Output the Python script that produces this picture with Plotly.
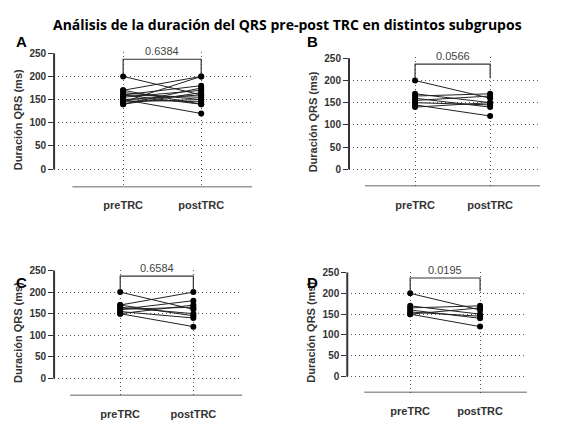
import plotly.graph_objects as go

categories = ["preTRC", "postTRC"]
panel_labels = ["A", "B", "C", "D"]
p_values = ["0.6384", "0.0566", "0.6584", "0.0195"]

pre_a = [200, 170, 165, 160, 160, 155, 150, 150, 145, 140, 140, 170, 160, 150, 145]
post_a = [160, 200, 150, 180, 140, 170, 160, 120, 150, 165, 175, 140, 155, 145, 200]
pre_b = [200, 170, 165, 160, 155, 150, 145, 140]
post_b = [160, 150, 170, 140, 165, 145, 120, 150]
pre_c = [200, 170, 165, 160, 155, 150, 150, 170, 160]
post_c = [160, 200, 150, 180, 140, 170, 120, 145, 165]
pre_d = [200, 170, 165, 160, 155, 150, 150]
post_d = [160, 150, 170, 140, 145, 120, 165]

pairs = [(pre_a, post_a), (pre_b, post_b), (pre_c, post_c), (pre_d, post_d)]

# layout of each panel: x domain, y domain, x range, baseline start, y bottom
panels = [
    dict(xd=[0.080, 0.424], yd=[0.592, 0.908], xr=[-0.885, 1.654], base=-0.65, yb=-39, lab=(0.01, 0.958)),
    dict(xd=[0.592, 0.924], yd=[0.594, 0.896], xr=[-0.88, 1.667], base=-0.667, yb=-38.6, lab=(0.515, 0.958)),
    dict(xd=[0.080, 0.407], yd=[0.104, 0.399], xr=[-0.904, 1.671], base=-0.685, yb=-39.7, lab=(0.01, 0.368)),
    dict(xd=[0.589, 0.901], yd=[0.111, 0.394], xr=[-0.9, 1.671], base=-0.657, yb=-38.8, lab=(0.515, 0.368)),
]

fig = go.Figure()
font_b = "Liberation Sans"
shapes, annotations = [], []

for i, (p, (pre, post)) in enumerate(zip(panels, pairs)):
    n = "" if i == 0 else str(i + 1)
    xa, ya = "x" + n, "y" + n
    for a, b in zip(pre, post):
        fig.add_trace(go.Scatter(
            x=[0, 1], y=[a, b], mode="lines+markers", xaxis=xa, yaxis=ya,
            line=dict(color="#222", width=1), marker=dict(color="black", size=6),
            showlegend=False, hoverinfo="skip"))
    fig.layout["xaxis" + n] = dict(
        domain=p["xd"], range=p["xr"], anchor=ya, tickvals=[0, 1], ticktext=categories,
        showgrid=True, gridcolor="#555", griddash="1px,3px", gridwidth=1, zeroline=False,
        showline=False, ticks="outside", ticklen=8, tickcolor="rgba(0,0,0,0)",
        tickfont=dict(family=font_b, size=11, color="#333", weight="bold"))
    fig.layout["yaxis" + n] = dict(
        domain=p["yd"], range=[p["yb"], 252], anchor=xa, tickvals=[0, 50, 100, 150, 200, 250],
        showgrid=True, gridcolor="#555", griddash="1px,3px", gridwidth=1, zeroline=False,
        showline=False, ticks="outside", ticklen=5, tickcolor="#333",
        tickfont=dict(family=font_b, size=10, color="#333", weight="bold"),
        title=dict(text="Duración QRS (ms)", standoff=4,
                   font=dict(family=font_b, size=11, color="#333", weight="bold")))
    # y axis line from 0 to 250
    shapes.append(dict(type="line", xref=xa + " domain", yref=ya, x0=0, x1=0, y0=0, y1=250,
                       line=dict(color="#333", width=2)))
    # baseline
    shapes.append(dict(type="line", xref=xa, yref=ya, x0=p["base"], x1=p["xr"][1],
                       y0=p["yb"], y1=p["yb"], line=dict(color="#333", width=1.5)))
    # significance bracket
    shapes.append(dict(type="path", xref=xa, yref=ya,
                       path="M 0 205 L 0 237 L 1 237 L 1 205",
                       line=dict(color="#333", width=1.2)))
    annotations.append(dict(xref=xa, yref=ya, x=0.5, y=237, text=p_values[i], showarrow=False,
                            yanchor="bottom", font=dict(family=font_b, size=11, color="#444")))
    annotations.append(dict(xref="paper", yref="paper", x=p["lab"][0], y=p["lab"][1],
                            text="<b>" + panel_labels[i] + "</b>", showarrow=False,
                            xanchor="left", font=dict(family=font_b, size=15, color="black")))

annotations.append(dict(xref="paper", yref="paper", x=0.485, y=1.0, yanchor="top",
                        text="<b>Análisis de la duración del QRS pre-post TRC en distintos subgrupos</b>",
                        showarrow=False, font=dict(family="Open Sans", size=14, color="black")))

fig.update_layout(width=576, height=432, margin=dict(l=0, r=0, t=0, b=0),
                  plot_bgcolor="white", paper_bgcolor="white",
                  shapes=shapes, annotations=annotations)
fig.write_html("out.html")
